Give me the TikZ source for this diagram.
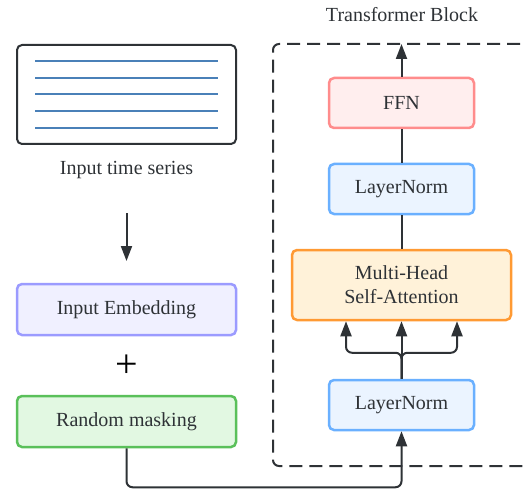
\documentclass[tikz,border=0pt]{standalone}
\usepackage{fontspec}
\setmainfont{Liberation Serif}
\usetikzlibrary{arrows.meta}

\definecolor{ink}{HTML}{2E3236}
\definecolor{seriesblue}{HTML}{4A80B8}
\definecolor{embfill}{HTML}{F0F0FF}
\definecolor{embdraw}{HTML}{9B9BFF}
\definecolor{maskfill}{HTML}{E2F8E2}
\definecolor{maskdraw}{HTML}{5AC05A}
\definecolor{lnfill}{HTML}{EBF4FF}
\definecolor{lndraw}{HTML}{6AB0FF}
\definecolor{attfill}{HTML}{FFF2D9}
\definecolor{attdraw}{HTML}{FF9A33}
\definecolor{ffnfill}{HTML}{FFEEEE}
\definecolor{ffndraw}{HTML}{FF8C8C}

\tikzset{
  txt/.style={text=ink, font=\fontsize{20}{24}\selectfont, align=center},
  box/.style={txt, draw, line width=2.5pt, rounded corners=5pt, inner sep=0pt},
  widebox/.style={box, minimum width=219pt, minimum height=51pt},
  normbox/.style={box, minimum width=145pt, minimum height=50pt},
  arr/.style={draw=ink, line width=2pt, -{Triangle[length=15pt,width=11pt]}},
  link/.style={draw=ink, line width=2pt},
  tsline/.style={draw=seriesblue, line width=2pt},
}

\begin{document}
\begin{tikzpicture}[x=1pt,y=-1pt]
  \useasboundingbox (0,0) rectangle (524,489);

  % left column
  \node[box, draw=ink, line width=2pt, fill=white, minimum width=219pt, minimum height=99pt] (ts) at (126.5,94.5) {};
  \foreach \y in {61,78,94,111,128}
    \draw[tsline] (35,\y) -- (218,\y);
  \node[txt] (tslabel) at (126.5,170) {Input time series};

  \coordinate (down-a) at (126.5,213);
  \coordinate (down-b) at (126.5,261);
  \draw[arr] (down-a) -- (down-b);

  \node[widebox, draw=embdraw, fill=embfill] (emb) at (126.5,309.5) {Input Embedding};
  \node[text=black, inner sep=0pt, font=\fontsize{40}{40}\selectfont] (plus) at (126.5,366) {+};
  \node[widebox, draw=maskdraw, fill=maskfill] (mask) at (126.5,421.5) {Random masking};

  % transformer block
  \begin{scope}
    \clip (0,0) rectangle (524,489);
    \draw[draw=ink, line width=2pt, dash pattern=on 13pt off 7pt, rounded corners=6pt]
      (540,44) -- (273,44) -- (273,466) -- (540,466);
  \end{scope}
  \node[txt] (title) at (402,15) {Transformer Block};

  \node[normbox, draw=lndraw, fill=lnfill] (lnA) at (401.5,405) {LayerNorm};
  \node[box, draw=attdraw, fill=attfill, minimum width=219pt, minimum height=70pt] (mhsa) at (401.5,285) {Multi-Head\\Self-Attention};
  \node[normbox, draw=lndraw, fill=lnfill] (lnB) at (401.5,189) {LayerNorm};
  \node[normbox, draw=ffndraw, fill=ffnfill] (ffn) at (401.5,103) {FFN};
  \coordinate (out) at (401.5,44);

  % connectors
  \draw[arr, rounded corners=6pt] (mask.south) -- ++(0,39) -| (lnA.south);
  \draw[arr] (lnA.north) -- (mhsa.south);
  \draw[arr, rounded corners=6pt] (lnA.north) -- ++(0,-26) -| ([xshift=-55.5pt]mhsa.south);
  \draw[arr, rounded corners=6pt] (lnA.north) -- ++(0,-26) -| ([xshift=55.5pt]mhsa.south);
  \draw[link] (mhsa.north) -- (lnB.south);
  \draw[link] (lnB.north) -- (ffn.south);
  \draw[arr] (ffn.north) -- (out);
\end{tikzpicture}
\end{document}
